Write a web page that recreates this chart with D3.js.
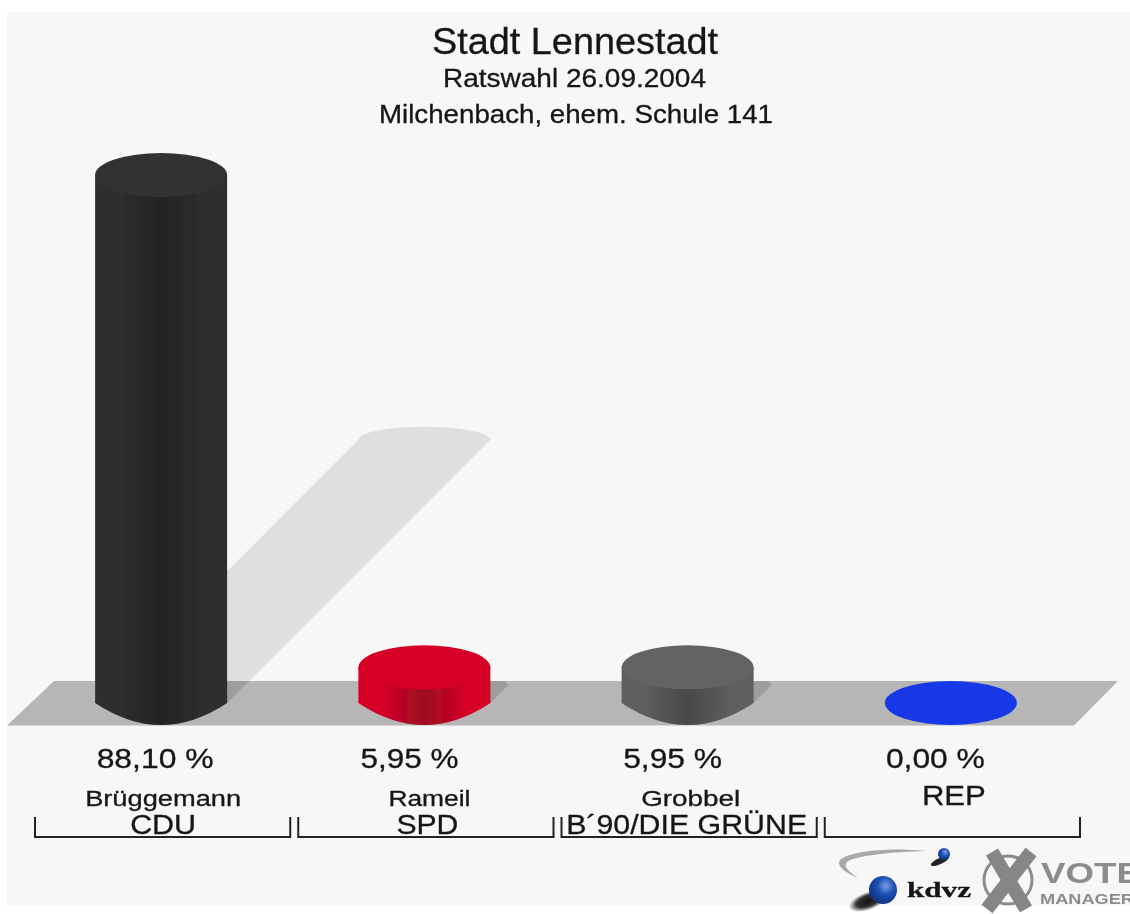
<!DOCTYPE html>
<html><head><meta charset="utf-8">
<script src="https://cdn.jsdelivr.net/npm/d3@7/dist/d3.min.js"></script>
<style>html,body{margin:0;padding:0;background:#fff;overflow:hidden}text{font-family:"Liberation Sans",Arial,sans-serif;fill:#151515;stroke:#151515;stroke-width:.3px}</style>
</head><body><script>
const titleLines = ["Stadt Lennestadt", "Ratswahl 26.09.2004", "Milchenbach, ehem. Schule 141"];
const parties = ["CDU", "SPD", "B´90/DIE GRÜNE", "REP"];
const candidates = ["Brüggemann", "Rameil", "Grobbel", ""];
const values = [88.10, 5.95, 5.95, 0.00];
const valueLabels = ["88,10 %", "5,95 %", "5,95 %", "0,00 %"];
const topColors = ["#333333", "#d60027", "#636363", "#1338e6"];
const sideEdge = ["#2e2e2e", "#d60027", "#5e5e5e", "#1338e6"];
const sideCore = ["#232323", "#9a0b22", "#484848", "#1338e6"];

const W = 1130, H = 914;
const svg = d3.select("body").append("svg").attr("width", W).attr("height", H);
const defs = svg.append("defs");
defs.append("filter").attr("id", "soft").attr("x", 0).attr("y", 0).attr("width", 1).attr("height", 1)
  .append("feGaussianBlur").attr("stdDeviation", 0.6);
defs.append("clipPath").attr("id", "aboveFloor").append("rect").attr("x", 0).attr("y", 0).attr("width", W).attr("height", 681);
const floorPts = [[7, 725.5], [54, 681], [1118, 681], [1074, 725.5]];
defs.append("clipPath").attr("id", "onFloor").append("polygon").attr("points", floorPts.join(" "));

const root = svg.append("g").attr("filter", "url(#soft)");
root.append("rect").attr("x", 7).attr("y", 12).attr("width", W - 7).attr("height", H - 12 - 8).attr("fill", "#f7f7f7");

const band = d3.scaleBand().domain(parties).range([31, 1084]);
const y = d3.scaleLinear().domain([0, 88.10]).range([703, 175]);
const RX = 66, RY = 22, SRY = 13, shear = 0.4985;
const cx = p => band(p) + band.bandwidth() / 2 - 1.5;

parties.forEach((p, i) => {
  const g = defs.append("linearGradient").attr("id", "side" + i);
  [[0, sideEdge], [18, sideEdge], [50, sideCore], [82, sideEdge], [100, sideEdge]].forEach(([o, c]) =>
    g.append("stop").attr("offset", o + "%").attr("stop-color", c[i]));
});

// floor
root.append("polygon").attr("points", floorPts.join(" ")).attr("fill", "#b6b6b6");

// cast shadows
function shadowPath(d) {
  const c = cx(d.p), dx = (y(0) - y(d.v)) * shear;
  const tx = c + dx, ty = y(0) - dx;
  return `M${c - RX},${y(0)}L${tx - RX},${ty}A${RX},${SRY} 0 0 1 ${tx + RX},${ty}L${c + RX},${y(0)}Z`;
}
const shadowData = parties.map((p, i) => ({p, v: values[i]})).filter(d => d.v > 0);
root.append("g").attr("clip-path", "url(#aboveFloor)").selectAll("path")
  .data(shadowData.filter(d => y(0) - (y(0) - y(d.v)) * shear < 681)).join("path")
  .attr("d", shadowPath).attr("fill", "#dfdfdf");
root.append("g").attr("clip-path", "url(#onFloor)").selectAll("path").data(shadowData).join("path")
  .attr("d", shadowPath).attr("fill", "#9d9d9d");

// cylinders
const bars = root.append("g").selectAll("g").data(parties.map((p, i) => ({p, i, v: values[i]}))).join("g");
bars.filter(d => d.v > 0).append("path")
  .attr("d", d => {
    const c = cx(d.p);
    return `M${c - RX},${y(d.v)}L${c - RX},${y(0)}Q${c},${y(0) + 2 * RY} ${c + RX},${y(0)}L${c + RX},${y(d.v)}Z`;
  })
  .attr("fill", d => `url(#side${d.i})`);
bars.append("ellipse")
  .attr("cx", d => cx(d.p)).attr("cy", d => y(d.v))
  .attr("rx", RX).attr("ry", RY).attr("fill", d => topColors[d.i]);

const fit = (sel, widths) => sel
  .attr("textLength", (d, i) => widths[i])
  .attr("lengthAdjust", "spacingAndGlyphs");

// value labels
const labelShift = [-6, -15, -15, -15.5];
const labelWidth = [117, 98, 99, 99];
fit(root.append("g").selectAll("text").data(valueLabels).join("text")
  .attr("x", (d, i) => cx(parties[i]) + labelShift[i]).attr("y", 768)
  .attr("text-anchor", "middle").attr("font-size", 28).text(d => d), labelWidth);

// candidate names
const nameShift = [2, 5, 3, 0];
const nameWidth = [156, 82, 99, 1];
fit(root.append("g").selectAll("text").data(candidates).join("text")
  .attr("x", (d, i) => cx(parties[i]) + nameShift[i]).attr("y", 805.5)
  .attr("text-anchor", "middle").attr("font-size", 22).text(d => d), nameWidth);

// party labels
const partyShift = [2, 3, -1, 3];
const partyY = [833.5, 833.5, 833.5, 805];
const partyWidth = [66, 62, 241, 64];
fit(root.append("g").selectAll("text").data(parties).join("text")
  .attr("x", (d, i) => cx(d) + partyShift[i]).attr("y", (d, i) => partyY[i])
  .attr("text-anchor", "middle").attr("font-size", 27).text(d => d), partyWidth);

// brackets
root.append("g").selectAll("path").data(parties).join("path")
  .attr("d", p => {
    const l = band(p) + 4, r = band(p) + band.bandwidth() - 4;
    return `M${l},817V837H${r}V817`;
  }).attr("fill", "none").attr("stroke", "#222").attr("stroke-width", 2);

// titles
const titleY = [54, 87, 122.5], titleSize = [36, 25.5, 25.5], titleWidth = [286, 263, 394], titleX = [575, 574.5, 576];
fit(root.append("g").selectAll("text").data(titleLines).join("text")
  .attr("x", (d, i) => titleX[i]).attr("y", (d, i) => titleY[i])
  .attr("text-anchor", "middle").attr("font-size", (d, i) => titleSize[i]).text(d => d), titleWidth);

// logos
const logo = root.append("g");
const ball = defs.append("radialGradient").attr("id", "ball").attr("cx", "60%").attr("cy", "35%").attr("r", "70%");
ball.append("stop").attr("offset", "0%").attr("stop-color", "#7d9fe0");
ball.append("stop").attr("offset", "45%").attr("stop-color", "#1c4fb5");
ball.append("stop").attr("offset", "100%").attr("stop-color", "#0f2f75");
const sh = defs.append("radialGradient").attr("id", "ballShadow");
sh.append("stop").attr("offset", "0%").attr("stop-color", "#111");
sh.append("stop").attr("offset", "60%").attr("stop-color", "#333");
sh.append("stop").attr("offset", "100%").attr("stop-color", "#f7f7f7");
logo.append("path").attr("d", "M926,851C890,847 850,851 840,860C836,866 846,873 858,878C848,871 843,866 847,862C856,855 895,852 926,851Z").attr("fill", "#a8a8a8");
logo.append("ellipse").attr("cx", 940).attr("cy", 861).attr("rx", 10).attr("ry", 3).attr("transform", "rotate(-25 940 861)").attr("fill", "#222");
logo.append("circle").attr("cx", 944).attr("cy", 854).attr("r", 6).attr("fill", "url(#ball)");
logo.append("ellipse").attr("cx", 868).attr("cy", 901).attr("rx", 20).attr("ry", 9).attr("transform", "rotate(-20 868 901)").attr("fill", "url(#ballShadow)");
logo.append("circle").attr("cx", 883).attr("cy", 890).attr("r", 14).attr("fill", "url(#ball)");
logo.append("text").attr("x", 907).attr("y", 897).attr("font-size", 22).attr("font-weight", "bold")
  .style("font-family", "'Liberation Serif',serif").attr("textLength", 64).attr("lengthAdjust", "spacingAndGlyphs").text("kdvz");
logo.append("circle").attr("cx", 1008).attr("cy", 880).attr("r", 24).attr("fill", "none").attr("stroke", "#8c8c8c").attr("stroke-width", 3);
logo.append("path").attr("d", "M992,852L1026,909M1031,852L987,909").attr("stroke", "#868686").attr("stroke-width", 14).attr("fill", "none");
logo.append("text").attr("x", 1041).attr("y", 883).attr("font-size", 29).attr("font-weight", "bold").style("fill", "#8c8c8c").style("stroke", "none")
  .attr("textLength", 100).attr("lengthAdjust", "spacingAndGlyphs").text("VOTE");
logo.append("text").attr("x", 1040).attr("y", 903.5).attr("font-size", 15.5).attr("font-weight", "bold").style("fill", "#8c8c8c").style("stroke", "none")
  .attr("textLength", 94).attr("lengthAdjust", "spacingAndGlyphs").text("MANAGER");
</script></body></html>
